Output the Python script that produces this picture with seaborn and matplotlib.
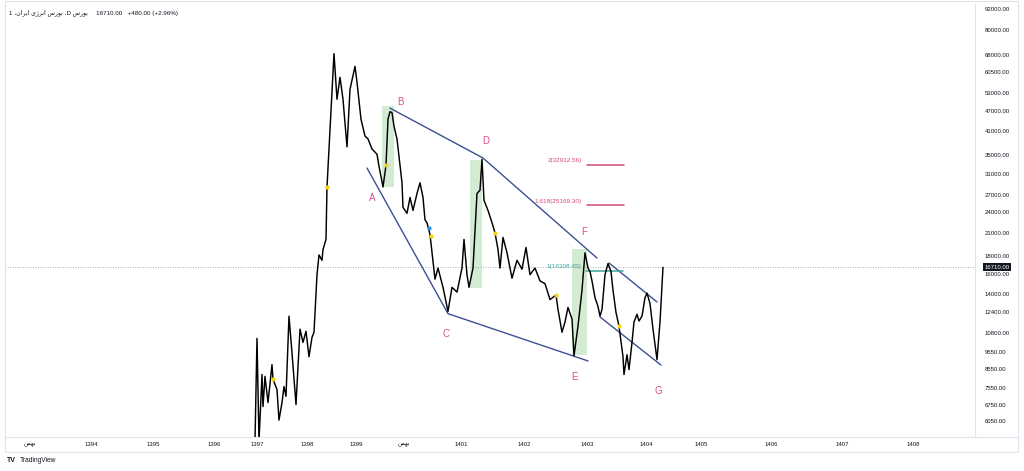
import numpy as np
import pandas as pd
import matplotlib
matplotlib.use("Agg")
import matplotlib.pyplot as plt
import seaborn as sns
from matplotlib.patches import Rectangle
from matplotlib.lines import Line2D

# ---------------- data ----------------
bar = [255, 257, 259, 262, 263, 265, 268, 272, 273, 277, 279, 282, 284, 286, 289, 292, 296,
       300, 303, 306, 309, 312, 314, 317, 319, 322, 323, 326, 327, 330, 332, 334, 337, 340,
       343, 347, 350, 355, 357, 361, 365, 368, 372, 377, 379, 383, 386, 388, 390, 392, 394,
       397, 402, 403, 407, 410, 413, 417, 420, 423, 425, 427, 430, 435, 438, 443, 448, 452,
       457, 462, 464, 467, 469, 473, 477, 480, 482, 484, 488, 492, 495, 498, 500, 503, 507,
       512, 517, 522, 526, 530, 535, 540, 545, 550, 556, 558, 562, 565, 568, 572, 574, 578,
       582, 585, 588, 590, 592, 595, 598, 600, 602, 605, 608, 611, 613, 616, 619, 623, 624,
       627, 629, 632, 634, 637, 639, 642, 645, 647, 650, 653, 657, 660, 663]
close = [5300, 10450, 5300, 8230, 6660, 8130, 6840, 8785, 7970, 7455, 6090, 6840, 7600, 7125,
         12100, 9490, 6750, 11105, 10175, 10950, 9255, 10520, 10880, 15910, 18130, 17500,
         18780, 20090, 28400, 41570, 54125, 68500, 50670, 58625, 50670, 37000, 54125, 63000,
         56750, 44430, 39750, 39000, 36500, 35250, 32560, 28400, 32780, 44430, 46700, 46400,
         42430, 39000, 29200, 24830, 23860, 26500, 24330, 27200, 29200, 26500, 22860, 22430,
         20740, 15450, 16625, 14640, 12480, 14640, 14180, 16625, 20090, 15910, 14640, 16625,
         27200, 27800, 34110, 26000, 24330, 22430, 21000, 18780, 16625, 20350, 18390, 15545,
         17500, 16500, 19040, 15910, 16625, 15270, 15000, 13495, 13915, 12650, 10880, 11640,
         12820, 11870, 9315, 11330, 14360, 18390, 16625, 16250, 15270, 13670, 12900, 12100,
         12650, 15910, 17125, 16250, 14360, 12400, 11330, 9255, 8230, 9375, 8500, 10175,
         11640, 12250, 11720, 12100, 13670, 14090, 13160, 11105, 9080, 11640, 16710]
last_price = 16710

price_ticks = [92000, 80000, 68000, 60500, 53000, 47000, 41000, 35000, 31000, 27000, 24000,
               21000, 18000, 16000, 14000, 12400, 10800, 9550, 8550, 7550, 6750, 6050]
# Persian month name "بهمن" in visual (presentation-form) order
BAHMAN = "\uFEE6\uFEE4\uFEEC\uFE91"
time_tick_pos = [30, 91, 153, 214, 257, 307, 356, 404, 461, 524, 587, 646, 701, 771, 842, 913]
time_tick_labels = [BAHMAN, "1394", "1395", "1396", "1397", "1398", "1399", BAHMAN, "1401",
                    "1402", "1403", "1404", "1405", "1406", "1407", "1408"]

# trend lines (bar, price)
line_A_C_E = ([367, 448, 588], [32190, 12300, 9000])
line_B_D_F = ([390, 483, 597], [47800, 34390, 17760])
chan_upper = ([609, 657], [17190, 13290])
chan_lower = ([600, 661], [12035, 8760])

fib_levels = [32912.56, 25169.30, 16308.45]
fib_names = ["2(32912.56)", "1.618(25169.30)", "1(16308.45)"]
fib_colors = ["#d6487e", "#d6487e", "#3aa59a"]
fib_start = [587, 587, 586]
fib_end = [624, 624, 623]

wave_letters = ["A", "B", "C", "D", "E", "F", "G"]
wave_bar = [372, 400, 446, 486, 574, 584, 658]
wave_price = [26410, 49780, 10750, 38460, 8100, 21100, 7380]

boxes_bar0 = [382, 470, 572]
boxes_bar1 = [394, 482, 587]
boxes_lo = [28400, 14570, 9370]
boxes_hi = [48490, 33950, 18850]

event_bar = [273, 327, 386, 431, 495, 556, 619]
event_price = [7970, 28400, 32780, 20500, 21000, 13915, 11330]
info_bar = [429]
info_price = [21660]

# ---------------- drawing ----------------
sns.set_theme(style="white")
plt.rcParams['font.family'] = ['Liberation Sans', 'DejaVu Sans']

W, H = 1024, 471
fig = plt.figure(figsize=(W / 100, H / 100), dpi=100)
fig.patch.set_facecolor("white")
ax_l, ax_r, ax_t, ax_b = 5, 975, 4, 437
ax = fig.add_axes([ax_l / W, (H - ax_b) / H, (ax_r - ax_l) / W, (ax_b - ax_t) / H])
ax.set_facecolor("white")

df = pd.DataFrame({"bar": bar, "close": close})
sns.lineplot(data=df, x="bar", y="close", ax=ax, color="black", linewidth=1.05,
             estimator=None, sort=False, zorder=5)

ax.set_yscale("log")
ax.set_xlim(5, 975)
ax.set_ylim(5447, 95090)

# shaded boxes
for x0, x1, lo, hi in zip(boxes_bar0, boxes_bar1, boxes_lo, boxes_hi):
    ax.add_patch(Rectangle((x0, lo), x1 - x0, hi - lo, facecolor="#d4ebd3",
                           edgecolor="none", zorder=1))

# trend lines
navy = "#3c4f94"
for xs, ys in [line_A_C_E, line_B_D_F, chan_upper, chan_lower]:
    ax.plot(xs, ys, color=navy, linewidth=1.0, zorder=4)

# fib levels
for lvl, name, col, x0, x1 in zip(fib_levels, fib_names, fib_colors, fib_start, fib_end):
    ax.plot([x0, x1], [lvl, lvl], color=col, linewidth=1.1, zorder=4)
    ax.text(x0 - 5, lvl * 1.01, name, color=col, fontsize=4.6, ha="right", va="bottom",
            zorder=6)

# wave letters
for t, xb, yp in zip(wave_letters, wave_bar, wave_price):
    ax.text(xb, yp, t, color="#dc4f8a", fontsize=7, ha="center", va="center", zorder=6)

# event markers
ax.scatter(event_bar, event_price, s=9, color="#f5d10f", zorder=7, linewidths=0)
ax.scatter(info_bar, info_price, s=9, color="#2a8fe0", zorder=7, linewidths=0)

# last price dotted line
ax.axhline(last_price, color="#9598a1", linewidth=0.6, linestyle=(0, (1, 2)), zorder=3)

# axes styling
ax.yaxis.tick_right()
ax.set_yticks(price_ticks)
ax.set_yticklabels([f"{v:.2f}" for v in price_ticks])
ax.yaxis.set_minor_locator(matplotlib.ticker.NullLocator())
ax.set_xticks(time_tick_pos)
ax.set_xticklabels(time_tick_labels)
ax.tick_params(axis="y", which="both", length=0, pad=7, labelsize=4.3, labelcolor="#131722")
ax.tick_params(axis="x", which="both", length=0, pad=3.5, labelsize=4.3, labelcolor="#131722")
ax.set_xlabel("")
ax.set_ylabel("")
for s in ["top", "left"]:
    ax.spines[s].set_visible(False)
for s in ["right", "bottom"]:
    ax.spines[s].set_color("#e0e3eb")
    ax.spines[s].set_linewidth(0.8)

# last price label
ax.annotate(f"{last_price:.2f}", xy=(1.0, last_price), xycoords=("axes fraction", "data"),
            xytext=(7, 0), textcoords="offset points", fontsize=4.3, color="white",
            ha="left", va="center", zorder=10,
            bbox=dict(boxstyle="square,pad=0.25", facecolor="#131722", edgecolor="none"))

# outer frame and bottom line extension
fig.add_artist(Rectangle((5 / W, (H - 452) / H), (1018 - 5) / W, (452 - 1) / H,
                         transform=fig.transFigure, facecolor="none",
                         edgecolor="#e0e3eb", linewidth=0.8))
fig.add_artist(Line2D([975 / W, 1018 / W], [(H - ax_b) / H, (H - ax_b) / H],
                      transform=fig.transFigure, color="#e0e3eb", linewidth=0.8))

# header
BOURSE = "\uFEB1\uFEAD\uFEEE\uFE91"
ENERGY = "\uFBFC\uFB8A\uFEAE\uFEE7\uFE8D"
IRAN = "\uFEE5\uFE8D\uFEAE\uFBFE\uFE8D"
header = f"1 \u060C{IRAN} {ENERGY} {BOURSE} \u060CD {BOURSE}"
fig.text(9 / W, 1 - 13 / H, header, fontsize=4.4, color="#131722", va="center", ha="left")
fig.text(96 / W, 1 - 13 / H, "16710.00   +480.00 (+2.96%)", fontsize=4.5, color="#131722",
         va="center", ha="left")

# TradingView logo text
fig.text(7 / W, 1 - 461 / H, "TV", fontsize=5, fontweight="bold", color="#131722",
         va="center", ha="left")
fig.text(20 / W, 1 - 461 / H, "TradingView", fontsize=4.8, color="#131722",
         va="center", ha="left")

fig.savefig("out.png", dpi=100, facecolor="white")
